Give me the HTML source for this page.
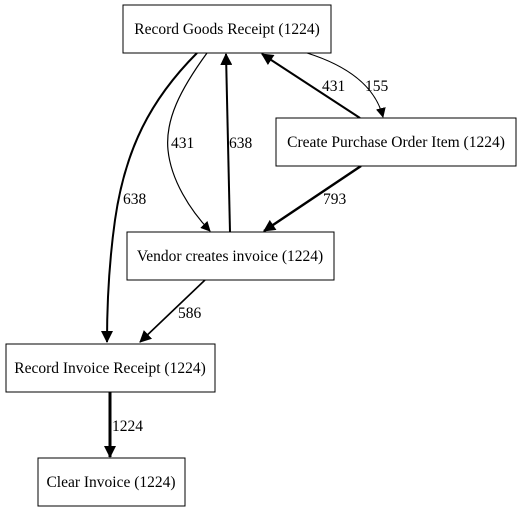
<!DOCTYPE html>
<html><head><style>body{margin:0;background:#fff}svg{display:block}text{font-family:"Liberation Serif",serif;font-size:15.5px}</style></head>
<body>
<svg width="521" height="512" viewBox="0 0 521 512">
<defs>
<marker id="a" markerWidth="10" markerHeight="10" refX="9" refY="5" orient="auto" markerUnits="userSpaceOnUse"><path d="M0,0 L10,5 L0,10 z" fill="#000"/></marker>
<marker id="b" markerWidth="12" markerHeight="12" refX="11" refY="6" orient="auto" markerUnits="userSpaceOnUse"><path d="M0,0 L12,6 L0,12 z" fill="#000"/></marker>
</defs>
<g fill="none" stroke="#000">
<path d="M207,53 C180,90 165,120 168,150 C171,180 190,210 210,231" stroke-width="1.2" marker-end="url(#a)"/>
<path d="M230,232 L226,54" stroke-width="2" marker-end="url(#b)"/>
<path d="M360,118 L262,54" stroke-width="2" marker-end="url(#b)"/>
<path d="M307,53 C345,65 375,85 383,117" stroke-width="1" marker-end="url(#a)"/>
<path d="M361,166 L264,231" stroke-width="2.5" marker-end="url(#b)"/>
<path d="M197,53 C150,100 125,150 115,220 C108,270 107,310 107,342" stroke-width="2" marker-end="url(#b)"/>
<path d="M205,280 L140,342" stroke-width="1.6" marker-end="url(#b)"/>
<path d="M110,392 L110,457" stroke-width="3" marker-end="url(#b)"/>
</g>
<g fill="#fff" stroke="#000">
<rect x="123" y="5" width="208" height="48"/>
<rect x="276" y="118" width="240" height="48"/>
<rect x="127" y="232" width="207" height="48"/>
<rect x="6" y="344" width="209" height="48"/>
<rect x="38" y="458" width="147" height="48"/>
</g>
<g text-anchor="middle">
<text x="227" y="34">Record Goods Receipt (1224)</text>
<text x="396" y="147">Create Purchase Order Item (1224)</text>
<text x="230" y="261">Vendor creates invoice (1224)</text>
<text x="110" y="373">Record Invoice Receipt (1224)</text>
<text x="111" y="487">Clear Invoice (1224)</text>
</g>
<g>
<text x="171" y="148">431</text>
<text x="229" y="148">638</text>
<text x="123" y="204">638</text>
<text x="322" y="91">431</text>
<text x="365" y="91">155</text>
<text x="323" y="204">793</text>
<text x="178" y="318">586</text>
<text x="112" y="431">1224</text>
</g>
</svg>
</body></html>
